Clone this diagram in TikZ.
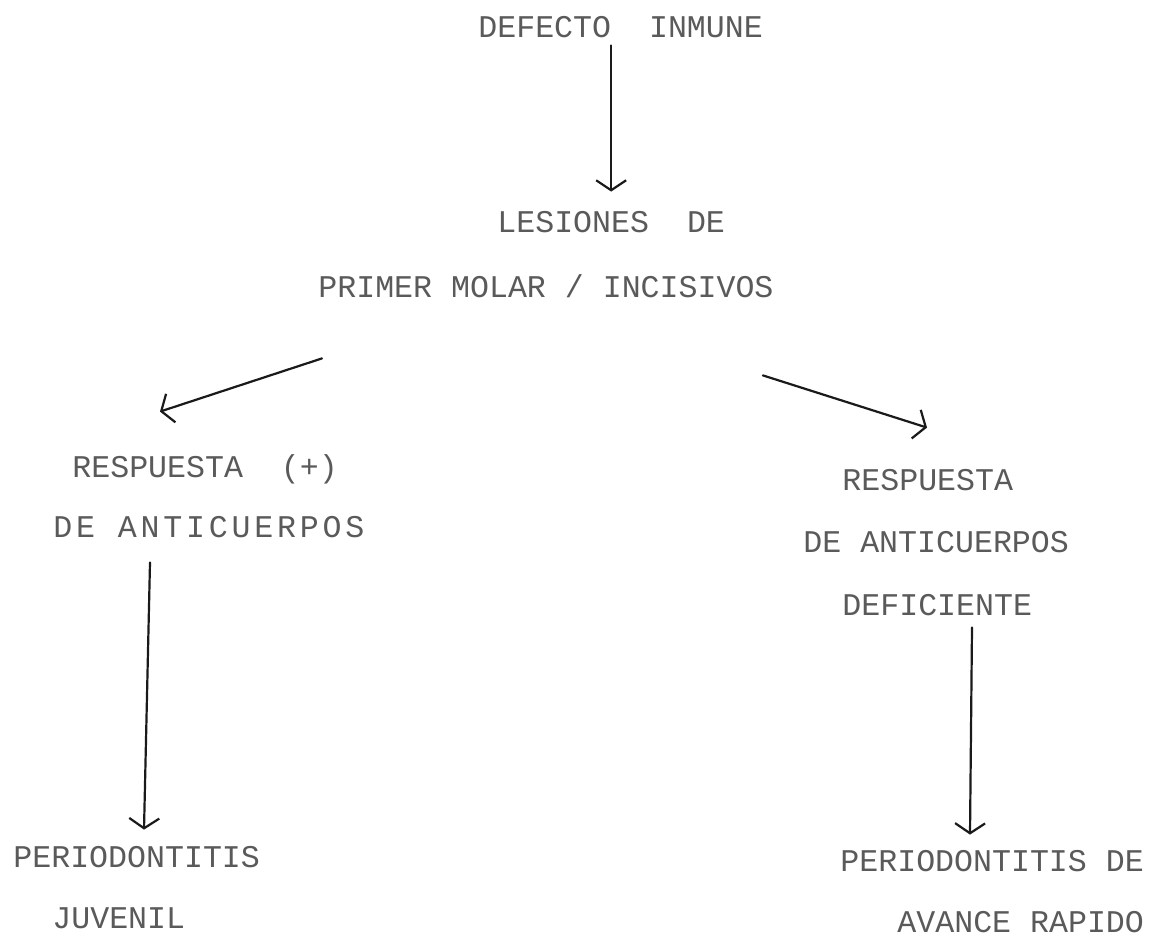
\documentclass[tikz,border=0pt]{standalone}
\usepackage{xcolor}
\usepackage{fontspec}
\usepackage{tikz}
\usetikzlibrary{arrows.meta}
\setmonofont{Liberation Mono}
\definecolor{printgray}{HTML}{5A5A5A}
\definecolor{inkblack}{HTML}{1A1A1A}
\tikzset{
  texto/.style={anchor=west, inner sep=0pt, text=printgray, text height=10pt, text depth=0pt,
    font=\fontsize{15.8pt}{18pt}\ttfamily},
  ancho/.style={font=\fontsize{15.8pt}{18pt}\ttfamily\addfontfeature{LetterSpace=12}},
  flecha/.style={draw=inkblack, line width=1.1pt, line cap=round,
    -{Straight Barb[length=5pt, width=15pt, line width=1.1pt]}}
}

\begin{document}
\begin{tikzpicture}[x=0.5pt, y=-0.5pt]
    \useasboundingbox[fill=white] (0,0) rectangle (1151,937);
    \node[texto] (defecto) at (478,28) {DEFECTO~~INMUNE};
    \node[texto] (lesiones) at (497,222) {LESIONES~~DE};
    \node[texto] (primer) at (318,287) {PRIMER MOLAR / INCISIVOS};
    \node[texto] (respizq) at (72,467) {RESPUESTA~~(+)};
    \node[texto, ancho] (anticizq) at (53,527) {DE ANTICUERPOS};
    \node[texto] (periizq) at (13,857) {PERIODONTITIS};
    \node[texto] (juvenil) at (52,918) {JUVENIL};
    \node[texto] (respder) at (842,480) {RESPUESTA};
    \node[texto] (anticder) at (803,542) {DE ANTICUERPOS};
    \node[texto] (deficiente) at (842,605) {DEFICIENTE};
    \node[texto] (perider) at (840,861) {PERIODONTITIS DE};
    \node[texto] (avance) at (897,922) {AVANCE RAPIDO};

    \draw[flecha] ([shift={(0,7)}]defecto.south -| lesiones.north) -- ([shift={(0,-20)}]lesiones.north);
    \draw[flecha] ([shift={(4,61)}]primer.south west) -- ([shift={(88,-45)}]respizq.north west);
    \draw[flecha] ([shift={(-11,78)}]primer.south east) -- ([shift={(85,-42)}]respder.north west);
    \draw[flecha] ([shift={(97,25)}]anticizq.south west) -- ([shift={(131,-17)}]periizq.north west);
    \draw[flecha] ([shift={(130,12)}]deficiente.south west) -- ([shift={(130,-16)}]perider.north west);
  \end{tikzpicture}
\end{document}
